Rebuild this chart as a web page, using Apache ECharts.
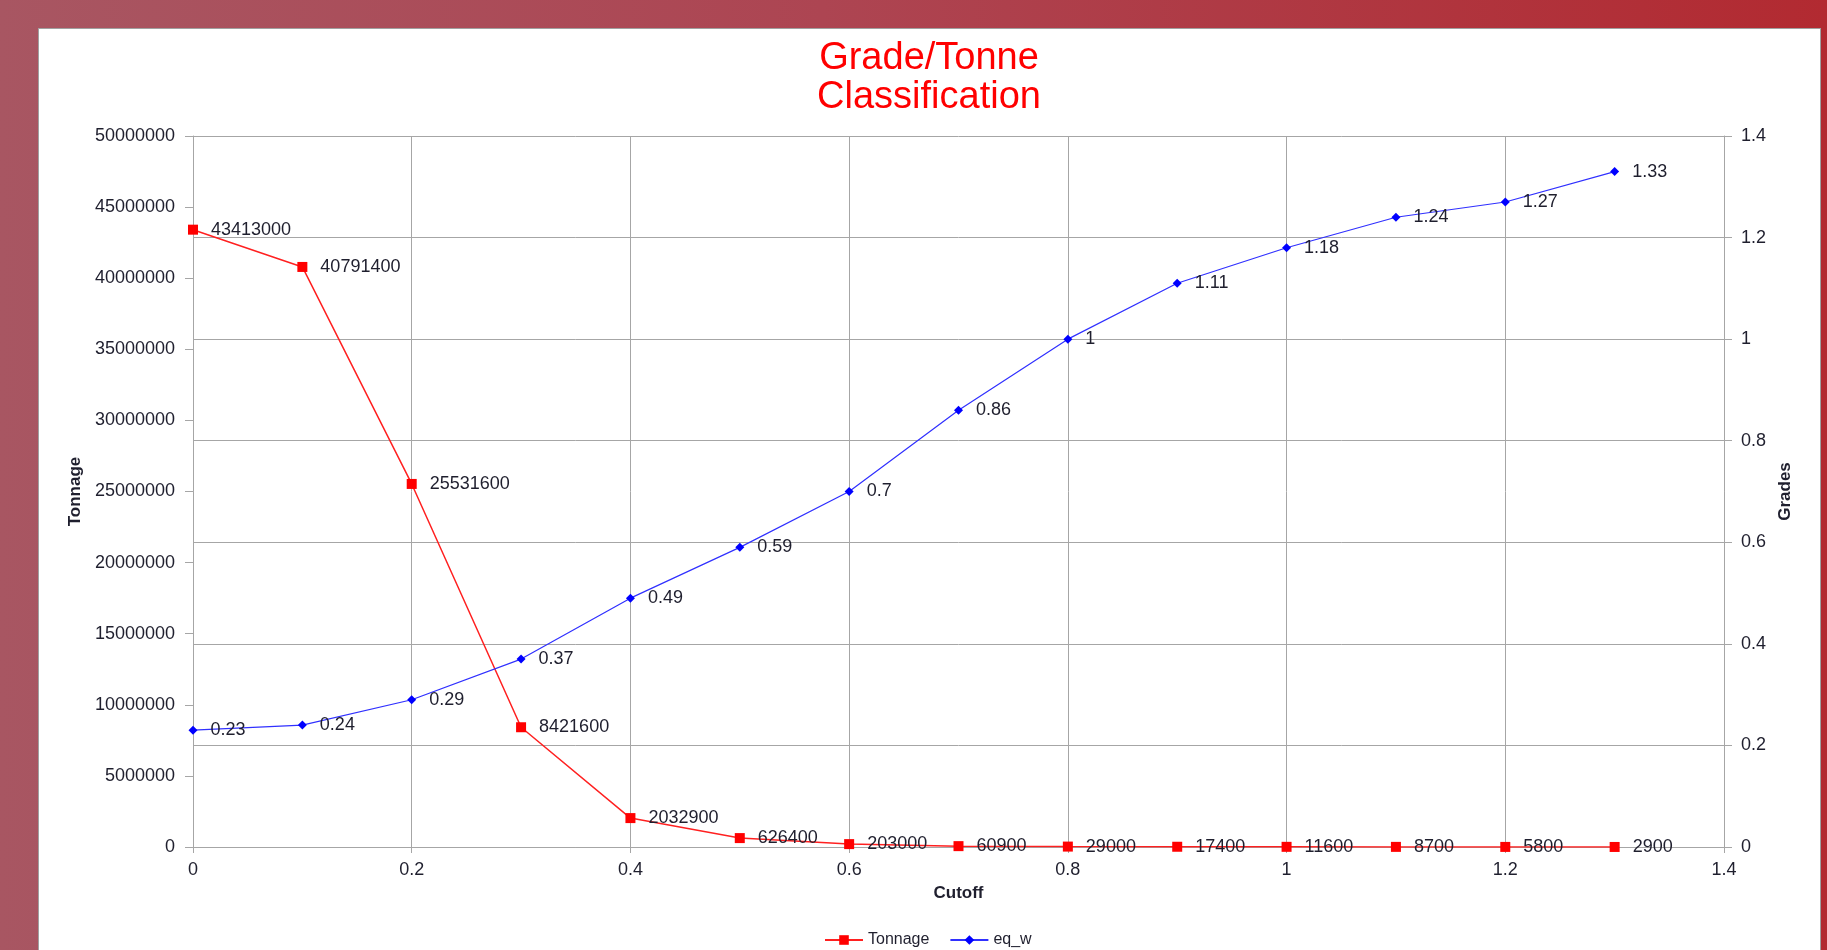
<!DOCTYPE html>
<html>
<head>
<meta charset="utf-8">
<title>Grade/Tonne Classification</title>
<script src="https://cdn.jsdelivr.net/npm/echarts@6/dist/echarts.min.js"></script>
<style>
    html, body {
        margin: 0;
        padding: 0;
        width: 1827px;
        height: 950px;
        overflow: hidden;
        background: linear-gradient(to right, #a85662, #ad4552 45%, #b22a31);
    }
    .panel {
        position: absolute;
        left: 38px;
        top: 28px;
        width: 1781px;
        height: 940px;
        background: #fff;
        border: 1px solid #a0a0a0;
    }
    #chart {
        position: absolute;
        left: 0;
        top: 0;
        width: 1827px;
        height: 950px;
    }
</style>
</head>
<body>
<div class="panel"></div>
<div id="chart"></div>
<script>
    // cutoff grade (x)
    var cutoff = [0, 0.1, 0.2, 0.3, 0.4, 0.5, 0.6, 0.7, 0.8, 0.9, 1.0, 1.1, 1.2, 1.3];
    // tonnage above cutoff (left axis)
    var tonnage = [43413000, 40791400, 25531600, 8421600, 2032900, 626400, 203000,
                   60900, 29000, 17400, 11600, 8700, 5800, 2900];
    // average grade above cutoff (right axis)
    var eqW = [0.23, 0.24, 0.29, 0.37, 0.49, 0.59, 0.7, 0.86, 1, 1.11, 1.18, 1.24, 1.27, 1.33];

    var font = 'Liberation Sans, Arial, sans-serif';
    var gridColor = '#a6a6a6';
    var textColor = '#1f1f2e';

    function pairs(ys) {
        var out = [];
        for (var i = 0; i < cutoff.length; i++) {
            out.push([cutoff[i], ys[i]]);
        }
        return out;
    }

    var chart = echarts.init(document.getElementById('chart'));

    var option = {
        backgroundColor: 'transparent',
        animation: false,
        textStyle: { fontFamily: font },
        title: {
            text: 'Grade/Tonne\nClassification',
            left: 924,
            top: 34,
            textAlign: 'center',
            textStyle: {
                color: '#ff0000',
                fontSize: 38,
                fontWeight: 'normal',
                lineHeight: 39,
                fontFamily: font
            }
        },
        legend: {
            data: ['Tonnage', 'eq_w'],
            left: 819,
            top: 927,
            itemWidth: 38,
            itemHeight: 12,
            itemGap: 20,
            textStyle: { fontSize: 16, color: textColor, fontFamily: font }
        },
        grid: {
            left: 193,
            right: 103,
            top: 136,
            bottom: 103
        },
        xAxis: {
            type: 'value',
            min: 0,
            max: 1.4,
            interval: 0.2,
            name: 'Cutoff',
            nameLocation: 'middle',
            nameGap: 38,
            nameTextStyle: { fontSize: 17, fontWeight: 'bold', color: textColor },
            axisLine: { show: true, lineStyle: { color: gridColor } },
            axisTick: { show: true, length: 6, lineStyle: { color: gridColor } },
            axisLabel: { fontSize: 18, color: textColor, margin: 14 },
            splitLine: { show: true, lineStyle: { color: gridColor } }
        },
        yAxis: [
            {
                type: 'value',
                min: 0,
                max: 50000000,
                interval: 5000000,
                name: 'Tonnage',
                nameLocation: 'middle',
                nameGap: 108,
                nameTextStyle: { fontSize: 17, fontWeight: 'bold', color: textColor },
                axisLine: { show: true, lineStyle: { color: gridColor } },
                axisTick: { show: true, length: 8, lineStyle: { color: gridColor } },
                axisLabel: {
                    fontSize: 18,
                    color: textColor,
                    margin: 18,
                    formatter: function (v) { return String(v); }
                },
                splitLine: { show: false }
            },
            {
                type: 'value',
                min: 0,
                max: 1.4,
                interval: 0.2,
                position: 'right',
                name: 'Grades',
                nameLocation: 'middle',
                nameGap: 51,
                nameTextStyle: { fontSize: 17, fontWeight: 'bold', color: textColor },
                axisLine: { show: true, lineStyle: { color: gridColor } },
                axisTick: { show: true, length: 8, lineStyle: { color: gridColor } },
                axisLabel: { fontSize: 18, color: textColor, margin: 17 },
                splitLine: { show: true, lineStyle: { color: gridColor } }
            }
        ],
        series: [
            {
                name: 'Tonnage',
                type: 'line',
                yAxisIndex: 0,
                data: pairs(tonnage),
                symbol: 'rect',
                symbolSize: 10,
                color: '#ff0000',
                lineStyle: { color: '#ff2020', width: 1.5 },
                itemStyle: { color: '#ff0000' },
                label: {
                    show: true,
                    position: 'right',
                    distance: 13,
                    fontSize: 18,
                    color: textColor,
                    formatter: function (p) { return String(p.value[1]); }
                },
                z: 3
            },
            {
                name: 'eq_w',
                type: 'line',
                yAxisIndex: 1,
                data: pairs(eqW),
                symbol: 'diamond',
                symbolSize: 9,
                color: '#0000ff',
                lineStyle: { color: '#3030ff', width: 1.2 },
                itemStyle: { color: '#0000ff' },
                label: {
                    show: true,
                    position: 'right',
                    distance: 13,
                    fontSize: 18,
                    color: textColor,
                    formatter: function (p) { return String(p.value[1]); }
                },
                z: 3
            }
        ]
    };

    chart.setOption(option);
</script>
</body>
</html>
